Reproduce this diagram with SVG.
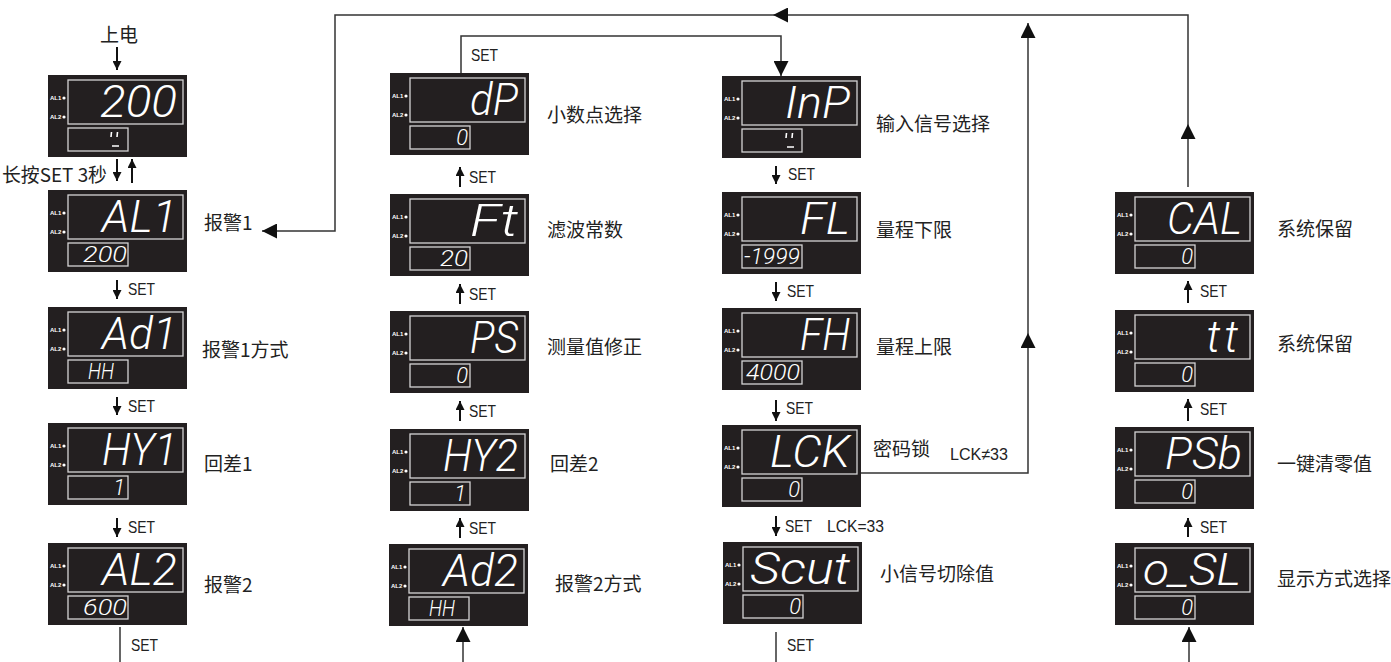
<svg xmlns="http://www.w3.org/2000/svg" xmlns:xlink="http://www.w3.org/1999/xlink" width="1391" height="662" viewBox="0 0 1391 662">
<style>
.bg{fill:#231f20}
.win{fill:none;stroke:#d4d4d4;stroke-width:1.3}
.al{font-family:"Liberation Sans",sans-serif;font-size:6px;font-weight:bold;fill:#fff}
.big{font-family:"Roboto","Liberation Sans",sans-serif;font-style:italic;font-weight:300;font-size:44px;fill:#fff;text-anchor:end}
.sub{font-family:"Roboto","Liberation Sans",sans-serif;font-style:italic;font-weight:300;font-size:22px;fill:#fff;text-anchor:end}
.seg{stroke:#fff;stroke-width:1.6}
.lbl{font-family:"Noto Sans CJK SC",sans-serif;font-size:19px;fill:#222;dominant-baseline:central}
.set{font-family:"Liberation Sans",sans-serif;font-size:17px;fill:#222;dominant-baseline:central}
.ln{stroke:#333;stroke-width:1.5;fill:none}
.sa{stroke:#111;stroke-width:2;fill:none}
</style>
<defs>
<marker id="lg" markerUnits="userSpaceOnUse" markerWidth="15" markerHeight="15" refX="15" refY="7.5" orient="auto" viewBox="0 0 15 15"><path d="M0,0 L15,7.5 L0,15 z" fill="#111"/></marker>
<marker id="sm" markerUnits="userSpaceOnUse" markerWidth="9" markerHeight="9" refX="9" refY="4.5" orient="auto" viewBox="0 0 9 9"><path d="M0,0 L9,4.5 L0,9 z" fill="#111"/></marker>
<symbol id="dev" viewBox="0 0 139 82" width="139" height="82">
<rect class="bg" x="0" y="0" width="139" height="82"/>
<rect class="win" x="20" y="5" width="115" height="44"/>
<rect class="win" x="20" y="53" width="60" height="23"/>
<text class="al" x="2" y="25">AL1</text>
<circle cx="16" cy="23" r="1.6" fill="#fff"/>
<text class="al" x="2" y="44">AL2</text>
<circle cx="16" cy="42" r="1.6" fill="#fff"/>
</symbol>
</defs>
<rect width="1391" height="662" fill="#fff"/>

<g id="connectors">
<path class="ln" d="M1188,187 L1188,124" marker-end="url(#lg)"/>
<path class="ln" d="M1188,124 L1188,15 L773,15" marker-end="url(#lg)"/>
<path class="ln" d="M773,15 L335,15 L335,231 L262,231" marker-end="url(#lg)"/>
<path class="ln" d="M861,473 L1028,473 L1028,333" marker-end="url(#lg)"/>
<path class="ln" d="M1028,333 L1028,23" marker-end="url(#lg)"/>
<path class="ln" d="M461,73 L461,36 L781,36 L781,76" marker-end="url(#lg)"/>
<path class="ln" d="M463,662 L463,627" marker-end="url(#lg)"/>
<path class="ln" d="M1189,662 L1189,627" marker-end="url(#lg)"/>
<path class="ln" d="M120,627 L120,662"/>
<path class="ln" d="M776,632 L776,662"/>
<path class="sa" d="M117,47 L117,70" marker-end="url(#sm)"/>
<path class="sa" d="M117,159 L117,181" marker-end="url(#sm)"/>
<path class="sa" d="M132,183 L132,159" marker-end="url(#sm)"/>
<path class="sa" d="M117,280 L117,299" marker-end="url(#sm)"/>
<path class="sa" d="M117,397 L117,415" marker-end="url(#sm)"/>
<path class="sa" d="M117,518 L117,537" marker-end="url(#sm)"/>
<path class="sa" d="M460,187 L460,167" marker-end="url(#sm)"/>
<path class="sa" d="M460,304 L460,284" marker-end="url(#sm)"/>
<path class="sa" d="M460,421 L460,401" marker-end="url(#sm)"/>
<path class="sa" d="M460,538 L460,518" marker-end="url(#sm)"/>
<path class="sa" d="M776,166 L776,184" marker-end="url(#sm)"/>
<path class="sa" d="M776,282 L776,301" marker-end="url(#sm)"/>
<path class="sa" d="M776,400 L776,421" marker-end="url(#sm)"/>
<path class="sa" d="M776,516 L776,536" marker-end="url(#sm)"/>
<path class="sa" d="M1188,303 L1188,281" marker-end="url(#sm)"/>
<path class="sa" d="M1188,421 L1188,399" marker-end="url(#sm)"/>
<path class="sa" d="M1188,537 L1188,518" marker-end="url(#sm)"/>
</g>

<g id="connector-labels">
<text class="lbl" x="100" y="33">上电</text>
<text class="lbl" x="2" y="173" textLength="105" lengthAdjust="spacingAndGlyphs">长按SET 3秒</text>
<text class="set" x="128" y="289" textLength="27" lengthAdjust="spacingAndGlyphs">SET</text>
<text class="set" x="128" y="406" textLength="27" lengthAdjust="spacingAndGlyphs">SET</text>
<text class="set" x="128" y="527" textLength="27" lengthAdjust="spacingAndGlyphs">SET</text>
<text class="set" x="131" y="645" textLength="27" lengthAdjust="spacingAndGlyphs">SET</text>
<text class="set" x="471" y="55" textLength="27" lengthAdjust="spacingAndGlyphs">SET</text>
<text class="set" x="469" y="177" textLength="27" lengthAdjust="spacingAndGlyphs">SET</text>
<text class="set" x="469" y="294" textLength="27" lengthAdjust="spacingAndGlyphs">SET</text>
<text class="set" x="469" y="411" textLength="27" lengthAdjust="spacingAndGlyphs">SET</text>
<text class="set" x="469" y="528" textLength="27" lengthAdjust="spacingAndGlyphs">SET</text>
<text class="set" x="788" y="174" textLength="27" lengthAdjust="spacingAndGlyphs">SET</text>
<text class="set" x="787" y="291" textLength="27" lengthAdjust="spacingAndGlyphs">SET</text>
<text class="set" x="786" y="408" textLength="27" lengthAdjust="spacingAndGlyphs">SET</text>
<text class="set" x="785" y="526" textLength="27" lengthAdjust="spacingAndGlyphs">SET</text>
<text class="set" x="827" y="526" textLength="57" lengthAdjust="spacingAndGlyphs">LCK=33</text>
<text class="set" x="950" y="454" textLength="58" lengthAdjust="spacingAndGlyphs">LCK≠33</text>
<text class="set" x="787" y="645" textLength="27" lengthAdjust="spacingAndGlyphs">SET</text>
<text class="set" x="1200" y="291" textLength="27" lengthAdjust="spacingAndGlyphs">SET</text>
<text class="set" x="1200" y="409" textLength="27" lengthAdjust="spacingAndGlyphs">SET</text>
<text class="set" x="1200" y="527" textLength="27" lengthAdjust="spacingAndGlyphs">SET</text>
</g>

<g id="n-power" transform="translate(48,75)">
<use href="#dev"/>
<text class="big" x="129" y="42" textLength="77" lengthAdjust="spacingAndGlyphs">200</text>
<path class="seg" d="M63.5,57 L63,62 M69.5,57 L69,62 M64,71 L71,71"/>
</g>
<g id="n-al1" transform="translate(48,190)">
<use href="#dev"/>
<text class="big" x="129" y="42" textLength="75" lengthAdjust="spacingAndGlyphs">AL1</text>
<text class="sub" x="79" y="72" textLength="44" lengthAdjust="spacingAndGlyphs">200</text>
<text class="lbl" x="156" y="31">报警1</text>
</g>
<g id="n-ad1" transform="translate(48,307)">
<use href="#dev"/>
<text class="big" x="129" y="42" textLength="75" lengthAdjust="spacingAndGlyphs">Ad1</text>
<text class="sub" x="66" y="72" textLength="26" lengthAdjust="spacingAndGlyphs">HH</text>
<text class="lbl" x="154" y="41">报警1方式</text>
</g>
<g id="n-hy1" transform="translate(48,423)">
<use href="#dev"/>
<text class="big" x="129" y="42" textLength="75" lengthAdjust="spacingAndGlyphs">HY1</text>
<text class="sub" x="77" y="72">1</text>
<text class="lbl" x="156" y="39">回差1</text>
</g>
<g id="n-al2" transform="translate(48,543)">
<use href="#dev"/>
<text class="big" x="129" y="42" textLength="75" lengthAdjust="spacingAndGlyphs">AL2</text>
<text class="sub" x="79" y="72" textLength="44" lengthAdjust="spacingAndGlyphs">600</text>
<text class="lbl" x="156" y="40">报警2</text>
</g>

<g id="n-dp" transform="translate(390,73)">
<use href="#dev"/>
<text class="big" x="128" y="42" textLength="48" lengthAdjust="spacingAndGlyphs">dP</text>
<text class="sub" x="78" y="72">0</text>
<text class="lbl" x="157" y="40">小数点选择</text>
</g>
<g id="n-ft" transform="translate(390,194)">
<use href="#dev"/>
<text class="big" x="128" y="42" textLength="48" lengthAdjust="spacingAndGlyphs">Ft</text>
<text class="sub" x="78" y="72" textLength="28" lengthAdjust="spacingAndGlyphs">20</text>
<text class="lbl" x="157" y="34">滤波常数</text>
</g>
<g id="n-ps" transform="translate(390,311)">
<use href="#dev"/>
<text class="big" x="128" y="42" textLength="48" lengthAdjust="spacingAndGlyphs">PS</text>
<text class="sub" x="78" y="72">0</text>
<text class="lbl" x="157" y="34">测量值修正</text>
</g>
<g id="n-hy2" transform="translate(390,429)">
<use href="#dev"/>
<text class="big" x="128" y="42" textLength="75" lengthAdjust="spacingAndGlyphs">HY2</text>
<text class="sub" x="76" y="72">1</text>
<text class="lbl" x="160" y="33">回差2</text>
</g>
<g id="n-ad2" transform="translate(389,544)">
<use href="#dev"/>
<text class="big" x="129" y="42" textLength="75" lengthAdjust="spacingAndGlyphs">Ad2</text>
<text class="sub" x="66" y="72" textLength="26" lengthAdjust="spacingAndGlyphs">HH</text>
<text class="lbl" x="166" y="38">报警2方式</text>
</g>

<g id="n-inp" transform="translate(722,76)">
<use href="#dev"/>
<text class="big" x="128" y="42" textLength="65" lengthAdjust="spacingAndGlyphs">InP</text>
<path class="seg" d="M64.5,57 L64,62 M70.5,57 L70,62 M65,71 L72,71"/>
<text class="lbl" x="154" y="46">输入信号选择</text>
</g>
<g id="n-fl" transform="translate(722,192)">
<use href="#dev"/>
<text class="big" x="128" y="42" textLength="50" lengthAdjust="spacingAndGlyphs">FL</text>
<text class="sub" x="78" y="72" textLength="56" lengthAdjust="spacingAndGlyphs">-1999</text>
<text class="lbl" x="154" y="36">量程下限</text>
</g>
<g id="n-fh" transform="translate(722,308)">
<use href="#dev"/>
<text class="big" x="128" y="42" textLength="50" lengthAdjust="spacingAndGlyphs">FH</text>
<text class="sub" x="78" y="72" textLength="54" lengthAdjust="spacingAndGlyphs">4000</text>
<text class="lbl" x="154" y="37">量程上限</text>
</g>
<g id="n-lck" transform="translate(722,425)">
<use href="#dev"/>
<text class="big" x="128" y="42" textLength="80" lengthAdjust="spacingAndGlyphs">LCK</text>
<text class="sub" x="78" y="72">0</text>
<text class="lbl" x="151" y="22">密码锁</text>
</g>
<g id="n-scut" transform="translate(723,542)">
<use href="#dev"/>
<text class="big" x="127" y="42" textLength="100" lengthAdjust="spacingAndGlyphs">Scut</text>
<text class="sub" x="78" y="72">0</text>
<text class="lbl" x="157" y="30">小信号切除值</text>
</g>

<g id="n-cal" transform="translate(1115,192)">
<use href="#dev"/>
<text class="big" x="127" y="42" textLength="75" lengthAdjust="spacingAndGlyphs">CAL</text>
<text class="sub" x="78" y="72">0</text>
<text class="lbl" x="162" y="35">系统保留</text>
</g>
<g id="n-tt" transform="translate(1115,310)">
<use href="#dev"/>
<text class="big" x="127" y="42" letter-spacing="4">tt</text>
<text class="sub" x="78" y="72">0</text>
<text class="lbl" x="162" y="32">系统保留</text>
</g>
<g id="n-psb" transform="translate(1115,427)">
<use href="#dev"/>
<text class="big" x="127" y="42" textLength="77" lengthAdjust="spacingAndGlyphs">PSb</text>
<text class="sub" x="78" y="72">0</text>
<text class="lbl" x="162" y="35">一键清零值</text>
</g>
<g id="n-osl" transform="translate(1115,543)">
<use href="#dev"/>
<text class="big" x="126" y="42" textLength="98" lengthAdjust="spacingAndGlyphs">o_SL</text>
<text class="sub" x="78" y="72">0</text>
<text class="lbl" x="162" y="34">显示方式选择</text>
</g>
</svg>
